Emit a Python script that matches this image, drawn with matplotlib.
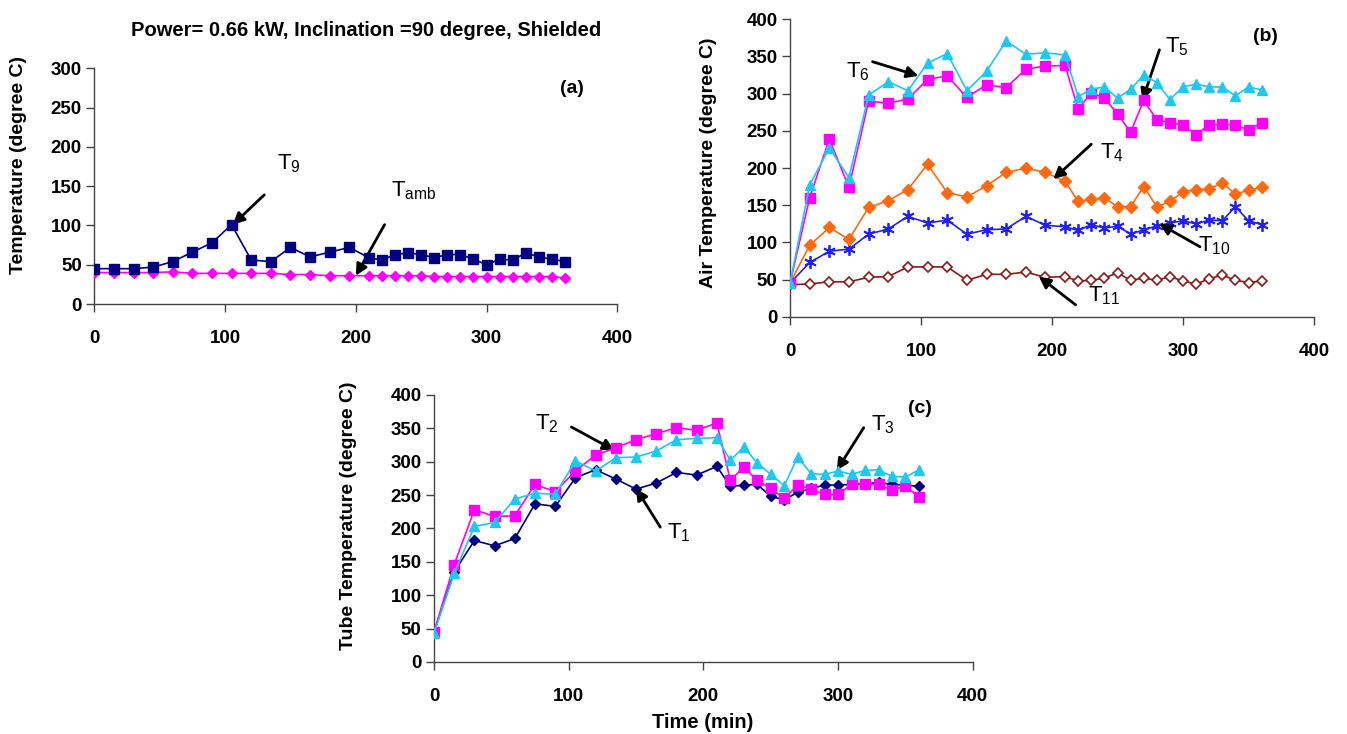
import matplotlib
matplotlib.use('Agg')
from matplotlib import pyplot as plt

plt.rcParams['font.family'] = ['Liberation Sans', 'DejaVu Sans']
plt.rcParams['mathtext.fontset'] = 'custom'
plt.rcParams['mathtext.rm'] = 'Liberation Sans'
plt.rcParams['mathtext.it'] = 'Liberation Sans'

# time (min)
time = [0, 15, 30, 45, 60, 75, 90, 105, 120, 135, 150, 165, 180, 195, 210,
        220, 230, 240, 250, 260, 270, 280, 290, 300, 310, 320, 330, 340, 350, 360]

# (a) shielded / ambient
t9 = [45, 45, 45, 47, 54, 66, 78, 101, 56, 54, 72, 60, 66, 72, 59,
      56, 63, 65, 63, 59, 63, 63, 57, 50, 57, 56, 65, 60, 57, 54]
tamb = [40, 40, 40, 40, 41, 39, 39, 39, 39, 39, 37.5, 37.5, 36, 36, 36,
        36, 36, 36, 36, 35, 35, 35, 35, 35, 35, 35, 35, 35, 35, 33]

# (b) air temperatures
t6 = [45, 177, 227, 187, 298, 316, 304, 341, 354, 304, 330, 371, 353, 355, 352,
      296, 306, 309, 294, 306, 325, 315, 292, 309, 313, 309, 309, 297, 309, 305]
t5 = [45, 160, 239, 174, 290, 287, 293, 319, 324, 295, 312, 308, 333, 337, 338,
      279, 301, 294, 273, 248, 291, 265, 261, 258, 245, 258, 259, 258, 251, 261]
t4 = [45, 96, 120, 104, 147, 156, 171, 205, 167, 161, 176, 194, 200, 194, 182,
      155, 158, 160, 148, 148, 175, 148, 155, 168, 171, 172, 180, 165, 170, 174]
t10 = [45, 73, 88, 91, 111, 118, 135, 126, 130, 111, 117, 118, 135, 123, 121,
       116, 124, 119, 122, 111, 117, 122, 126, 129, 125, 130, 129, 148, 129, 124]
t11 = [43, 44, 47, 47, 53, 54, 67, 67, 67, 49, 57, 57, 60, 53, 54,
       48, 49, 52, 59, 49, 52, 49, 54, 48, 44, 51, 56, 49, 46, 48]

# (c) tube temperatures
t1 = [45, 135, 182, 174, 185, 237, 233, 276, 288, 274, 259, 268, 284, 280, 293,
      263, 265, 266, 248, 243, 254, 260, 265, 265, 266, 267, 269, 266, 265, 263]
t2 = [45, 146, 228, 218, 219, 266, 255, 286, 310, 321, 333, 342, 351, 347, 358,
      272, 292, 272, 260, 245, 265, 259, 251, 251, 266, 266, 266, 257, 264, 247]
t3 = [43, 133, 203, 209, 244, 253, 251, 301, 286, 306, 307, 316, 333, 335, 336,
      302, 322, 298, 281, 264, 307, 282, 281, 286, 281, 287, 288, 278, 277, 288]

NAVY = '#000080'
MAGENTA = '#FF00FF'
CYAN = '#1EC8F0'
ORANGE = '#FF6A10'
BLUE = '#2020FF'
BROWN = '#8B1A1A'

fig = plt.figure(figsize=(13.47, 7.34), dpi=100)
ax_a = fig.add_axes([0.0700, 0.5858, 0.3883, 0.3211])
ax_b = fig.add_axes([0.5865, 0.5685, 0.3890, 0.4052])
ax_c = fig.add_axes([0.3222, 0.0981, 0.4000, 0.3638])


def style_axes(ax, ymax, ystep):
    ax.set_xlim(0, 400)
    ax.set_ylim(0, ymax)
    ax.set_xticks(range(0, 401, 100))
    ax.set_yticks(range(0, ymax + 1, ystep))
    for s in ['top', 'right']:
        ax.spines[s].set_visible(False)
    for s in ['left', 'bottom']:
        ax.spines[s].set_color('#444444')
        ax.spines[s].set_linewidth(1.0)
    ax.tick_params(axis='y', direction='out', length=6, width=1, color='#444444',
                   pad=3, labelsize=13.5)
    ax.tick_params(axis='x', direction='out', length=6, width=1, color='#444444',
                   pad=13, labelsize=13.5)
    for lab in ax.get_xticklabels() + ax.get_yticklabels():
        lab.set_fontweight('bold')


def arrow(ax, label, text_xy, start, end):
    ax.text(text_xy[0], text_xy[1], label, fontsize=16, ha='center', va='center')
    ax.annotate('', xy=end, xytext=start,
                arrowprops=dict(arrowstyle='-|>', color='black', lw=2,
                                mutation_scale=17, shrinkA=0, shrinkB=0))


# ---- (a)
style_axes(ax_a, 300, 50)
ax_a.plot(time, tamb, color=MAGENTA, lw=1.2, marker='D', ms=5.5, zorder=3)
ax_a.plot(time, t9, color=NAVY, lw=1.2, marker='s', ms=6.5, zorder=4)
ax_a.set_ylabel('Temperature (degree C)', fontsize=14, fontweight='bold')
ax_a.yaxis.set_label_coords(-0.129, 0.59)
ax_a.text(365, 274, '(a)', fontsize=14, fontweight='bold', ha='center', va='center')
arrow(ax_a, r'T$_9$', (149, 179), (130, 139), (106, 101))
arrow(ax_a, r'T$_{amb}$', (244, 144), (222, 101), (200, 36))
fig.text(0.272, 0.959, 'Power= 0.66 kW, Inclination =90 degree, Shielded',
         fontsize=14.5, fontweight='bold', ha='center', va='center')

# ---- (b)
style_axes(ax_b, 400, 50)
ax_b.plot(time, t11, color=BROWN, lw=1.2, marker='D', ms=5.5, mfc='white',
          mec=BROWN, mew=1.2, zorder=3)
ax_b.plot(time, t10, color=BLUE, lw=1.2, marker=(6, 2, 0), ms=9, mew=1.3, zorder=3)
ax_b.plot(time, t4, color=ORANGE, lw=1.2, marker='D', ms=6, zorder=3)
ax_b.plot(time, t5, color=MAGENTA, lw=1.2, marker='s', ms=6.5, zorder=4)
ax_b.plot(time, t6, color=CYAN, lw=1.2, marker='^', ms=7.5, zorder=5)
ax_b.set_ylabel('Air Temperature (degree C)', fontsize=14, fontweight='bold')
ax_b.yaxis.set_label_coords(-0.139, 0.517)
ax_b.text(363, 377, '(b)', fontsize=14, fontweight='bold', ha='center', va='center')
arrow(ax_b, r'T$_6$', (52, 330), (63, 343), (98, 324))
arrow(ax_b, r'T$_5$', (295, 363), (282, 359), (269, 291))
arrow(ax_b, r'T$_4$', (246, 220), (230, 232), (201, 185))
arrow(ax_b, r'T$_{10}$', (324, 96), (313, 94), (282, 125))
arrow(ax_b, r'T$_{11}$', (240, 28), (218, 16), (190, 54))

# ---- (c)
style_axes(ax_c, 400, 50)
ax_c.plot(time, t1, color=NAVY, lw=1.2, marker='D', ms=5.5, zorder=3)
ax_c.plot(time, t2, color=MAGENTA, lw=1.2, marker='s', ms=6.5, zorder=4)
ax_c.plot(time, t3, color=CYAN, lw=1.2, marker='^', ms=7.5, zorder=5)
ax_c.set_ylabel('Tube Temperature (degree C)', fontsize=14, fontweight='bold')
ax_c.yaxis.set_label_coords(-0.143, 0.547)
ax_c.set_xlabel('Time (min)', fontsize=14.5, fontweight='bold')
ax_c.xaxis.set_label_coords(0.499, -0.19)
ax_c.text(361, 380, '(c)', fontsize=14, fontweight='bold', ha='center', va='center')
arrow(ax_c, r'T$_2$', (84, 357), (102, 352), (134, 317))
arrow(ax_c, r'T$_3$', (333, 355), (319, 351), (299, 287))
arrow(ax_c, r'T$_1$', (182, 193), (168, 202), (150, 260))

plt.savefig('out.png', dpi=100)
plt.close()
